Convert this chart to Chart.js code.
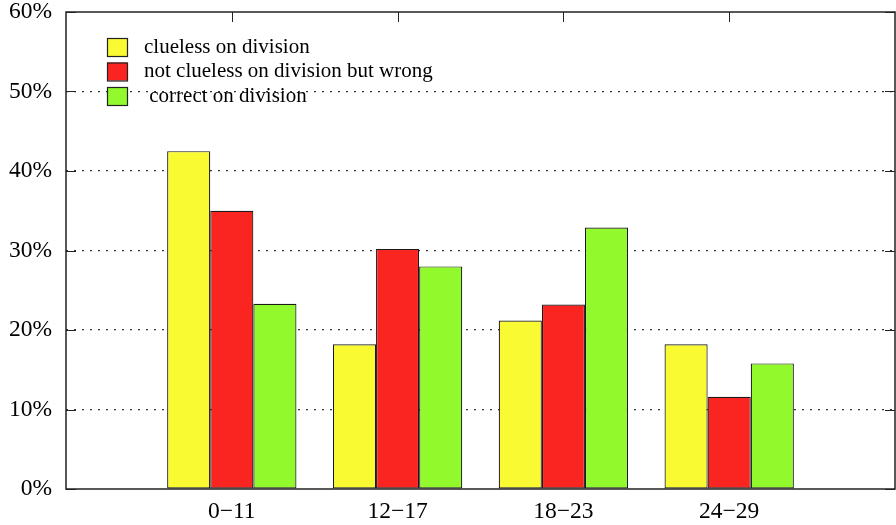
<!DOCTYPE html>
<html lang="en">
<head>
  <meta charset="UTF-8">
  <title>Division results by age</title>
  <script src="https://cdn.jsdelivr.net/npm/chart.js"></script>
  <style>
    body { margin: 0; background: white; }
    #wrap { width: 896px; height: 525px; }
  </style>
</head>
<body>
  <div id="wrap"><canvas id="chart"></canvas></div>
  <script>
    // categories (blank slots at both ends, like the original gnuplot range)
    const ageGroups = ['', '0\u221211', '12\u221217', '18\u221223', '24\u221229', ''];
    const seriesNames = ['clueless on division', 'not clueless on division but wrong', ' correct on division'];
    const clueless = [null, 42.5, 18.2, 21.2, 18.2, null];
    const wrong = [null, 35.0, 30.2, 23.2, 11.6, null];
    const correct = [null, 23.3, 28.0, 32.9, 15.8, null];
    const yTicks = [0, 10, 20, 30, 40, 50, 60];

    const colors = ['#fafa32', '#fa2521', '#92fa2c'];
    const serif = "'Liberation Serif', 'DejaVu Serif', serif";

    // gnuplot-like frame, inward ticks and the in-plot key
    const framePlugin = {
      id: 'frame',
      afterDraw(chart) {
        const { ctx, chartArea: a, scales } = chart;
        ctx.save();
        ctx.strokeStyle = '#222';
        ctx.lineWidth = 1;
        ctx.beginPath();
        yTicks.forEach(v => {
          const y = Math.round(scales.y.getPixelForValue(v)) + 0.5;
          ctx.moveTo(a.left, y); ctx.lineTo(a.left + 10, y);
          ctx.moveTo(a.right, y); ctx.lineTo(a.right - 10, y);
        });
        for (let i = 1; i < ageGroups.length - 1; i++) {
          const x = Math.round(scales.x.getPixelForValue(i)) + 0.5;
          ctx.moveTo(x, a.top); ctx.lineTo(x, a.top + 10);
        }
        ctx.stroke();
        ctx.lineWidth = 1.5;
        ctx.strokeRect(a.left, a.top, a.right - a.left, a.bottom - a.top);

        // key
        ctx.font = '21px ' + serif;
        ctx.textBaseline = 'middle';
        chart.data.datasets.forEach((ds, i) => {
          const y = 38 + i * 24.5;
          ctx.fillStyle = ds.backgroundColor;
          ctx.fillRect(107, y, 20, 18);
          ctx.lineWidth = 1.2;
          ctx.strokeStyle = '#222';
          ctx.strokeRect(107.5, y + 0.5, 20, 18);
          ctx.fillStyle = '#000';
          ctx.fillText(ds.label, 144, y + 9);
        });
        ctx.restore();
      }
    };

    new Chart(document.getElementById('chart'), {
      type: 'bar',
      data: {
        labels: ageGroups,
        datasets: [clueless, wrong, correct].map((d, i) => ({
          label: seriesNames[i],
          data: d,
          backgroundColor: colors[i],
          borderColor: '#1a1a1a',
          borderWidth: 1.2,
          borderSkipped: false
        }))
      },
      options: {
        responsive: true,
        maintainAspectRatio: false,
        animation: false,
        devicePixelRatio: 1,
        layout: { padding: { top: 12, right: 1, left: 0, bottom: 0 } },
        datasets: { bar: { categoryPercentage: 0.78, barPercentage: 1 } },
        plugins: { legend: { display: false }, tooltip: { enabled: false } },
        scales: {
          x: {
            offset: false,
            grid: { display: false, drawTicks: false },
            border: { display: false },
            ticks: { color: '#000', font: { family: serif, size: 23.5 }, padding: 9, autoSkip: false, maxRotation: 0 },
            afterFit: s => { s.height = 36; s.paddingLeft = 0; s.paddingRight = 0; }
          },
          y: {
            min: 0,
            max: 60,
            afterBuildTicks: s => { s.ticks = yTicks.map(v => ({ value: v })); },
            grid: {
              drawTicks: false,
              color: c => (c.tick && (c.tick.value === 0 || c.tick.value === 60)) ? 'rgba(0,0,0,0)' : '#333',
              lineWidth: 1.2
            },
            border: { display: false, dash: [2, 6] },
            ticks: {
              color: '#000',
              font: { family: serif, size: 23.5 },
              padding: 14,
              callback: v => v + '%'
            },
            afterFit: s => { s.width = 66; s.paddingTop = 0; s.paddingBottom = 0; }
          }
        }
      },
      plugins: [framePlugin]
    });
  </script>
</body>
</html>
